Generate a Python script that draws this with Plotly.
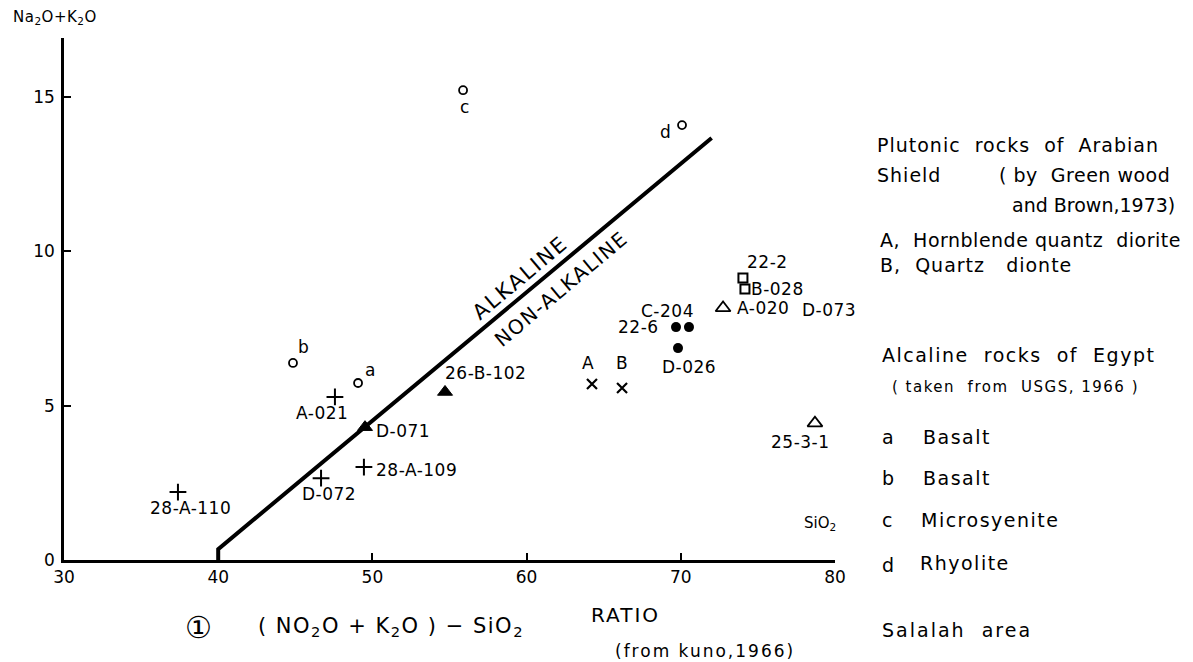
import plotly.graph_objects as go

# ---------------- data ----------------
# open circles: alkaline rocks of Egypt (a, b, c, d)
egypt_labels = ["a", "b", "c", "d"]
egypt_x = [49.07, 44.85, 55.88, 70.08]
egypt_y = [5.73, 6.38, 15.21, 14.08]

# plus markers
plus_labels = ["A-021", "28-A-109", "D-072", "28-A-110"]
plus_x = [47.57, 49.45, 46.67, 37.39]
plus_y = [5.28, 3.01, 2.65, 2.20]

# filled triangles
ftri_labels = ["D-071", "26-B-102"]
ftri_x = [49.52, 54.71]
ftri_y = [4.30, 5.44]

# x markers: Arabian Shield plutonic rocks
shield_labels = ["A", "B"]
shield_x = [64.24, 66.19]
shield_y = [5.70, 5.57]

# filled circles
dot_labels = ["22-6", "C-204", "D-026"]
dot_x = [69.69, 70.53, 69.82]
dot_y = [7.54, 7.54, 6.86]

# open squares
sq_labels = ["22-2", "B-028"]
sq_x = [74.03, 74.16]
sq_y = [9.13, 8.77]

# open triangles
otri_labels = ["A-020", "25-3-1"]
otri_x = [72.74, 78.70]
otri_y = [8.16, 4.43]

# label without marker
txt_labels = ["D-073"]
txt_x = [79.6]
txt_y = [8.10]

# alkaline / non-alkaline boundary
bound_x = [40, 40, 72.0]
bound_y = [0, 0.35, 13.66]

x_ticks = [30, 40, 50, 60, 70, 80]
y_ticks = [0, 5, 10, 15]

# ---------------- style ----------------
FONT = "DejaVu Sans"
OFF = 8                      # page body margin
W, H = 1193 - OFF, 662 - OFF
L, T = 64 - OFF, 38 - OFF
R = W - (835 - OFF)
B = H - (560 - OFF)

def pp(px, py):
    px, py = px - OFF, py - OFF
    return (px - L) / (W - L - R), (H - B - py) / (H - T - B)

def ls(text, sp):
    return f'<span style="letter-spacing:{sp}px">{text}</span>'

fig = go.Figure()

fig.add_trace(go.Scatter(x=bound_x, y=bound_y, mode="lines",
                         line=dict(color="black", width=4), hoverinfo="skip"))

def add_markers(xs, ys, symbol, size, lw=1.8):
    fig.add_trace(go.Scatter(x=xs, y=ys, mode="markers",
                             marker=dict(symbol=symbol, size=size, color="black",
                                         line=dict(color="black", width=lw))))

add_markers(egypt_x, egypt_y, "circle-open", 8)
add_markers(plus_x, plus_y, "cross-thin-open", 12, 2)
add_markers(ftri_x, ftri_y, "triangle-up", 13, 1)
add_markers(shield_x, shield_y, "x-thin-open", 10, 2.2)
add_markers(dot_x, dot_y, "circle", 10, 0)
add_markers(sq_x, sq_y, "square-open", 9, 2)
add_markers(otri_x, otri_y, "triangle-up-open", 13, 1.8)

annotations = []

def labels(names, xs, ys, shifts, size=17):
    for n, x, y, (dx, dy) in zip(names, xs, ys, shifts):
        annotations.append(dict(x=x, y=y, xref="x", yref="y", text=ls(n, 0.5), showarrow=False,
                                xshift=dx, yshift=dy, font=dict(size=size, color="black", family=FONT)))

labels(egypt_labels, egypt_x, egypt_y, [(12, 13), (11, 16), (2, -17), (-17, -7)])
labels(plus_labels, plus_x, plus_y, [(-13, -16), (53, -3), (8, -16), (13, -16)])
labels(ftri_labels, ftri_x, ftri_y, [(38, -4), (40, 19)])
labels(shield_labels, shield_x, shield_y, [(-4, 21), (0, 25)])
labels(dot_labels, dot_x, dot_y, [(-38, 0), (-21, 16), (11, -19)])
labels(sq_labels, sq_x, sq_y, [(25, 16), (33, 0)])
labels(otri_labels, otri_x, otri_y, [(40, 0), (-14, -19)])
labels(txt_labels, txt_x, txt_y, [(0, 0)])

def ptext(text, px, py, size=17, xanchor="center", angle=0, sp=0):
    x, y = pp(px, py)
    if sp:
        text = ls(text, sp)
    annotations.append(dict(x=x, y=y, xref="paper", yref="paper", text=text, showarrow=False,
                            xanchor=xanchor, yanchor="middle", textangle=angle,
                            font=dict(size=size, color="black", family=FONT)))

# boundary labels
ptext("ALKALINE", 520, 278, 21, angle=-40, sp=2)
ptext("NON-ALKALINE", 561, 289, 20, angle=-40, sp=1.5)

# axis titles
ptext("Na<sub>2</sub>O+K<sub>2</sub>O", 11, 18, 15, xanchor="left", sp=0.5)
ptext("SiO<sub>2</sub>", 820, 523, 15)

# caption
ptext("①", 198, 627, 30)
ptext("( NO<sub>2</sub>O + K<sub>2</sub>O ) − SiO<sub>2</sub>", 391, 627, 21, sp=1.5)
ptext("RATIO", 625, 615, 20, sp=2)
ptext("(from kuno,1966)", 613, 651, 17, xanchor="left", sp=2)
ptext("Salalah  area", 880, 630, 19, xanchor="left", sp=2)

# legend texts
LG = 19
ptext("Plutonic  rocks  of  Arabian", 875, 145, LG, xanchor="left", sp=1)
ptext("Shield", 875, 175, LG, xanchor="left", sp=1)
ptext("( by  Green wood", 997, 175, LG, xanchor="left", sp=0.5)
ptext("and Brown,1973)", 1010, 205, LG, xanchor="left")
ptext("A,  Hornblende quantz  diorite", 878, 240, LG, xanchor="left", sp=0.5)
ptext("B,  Quartz   dionte", 878, 265, LG, xanchor="left", sp=1)
ptext("Alcaline  rocks  of  Egypt", 880, 355, LG, xanchor="left", sp=1.5)
ptext("( taken  from  USGS, 1966 )", 890, 387, 15, xanchor="left", sp=1.5)
ptext("a", 880, 437, LG, xanchor="left")
ptext("Basalt", 921, 437, LG, xanchor="left", sp=1.5)
ptext("b", 880, 478, LG, xanchor="left")
ptext("Basalt", 921, 478, LG, xanchor="left", sp=1.5)
ptext("c", 880, 520, LG, xanchor="left")
ptext("Microsyenite", 919, 520, LG, xanchor="left", sp=1.5)
ptext("d", 880, 565, LG, xanchor="left")
ptext("Rhyolite", 918, 563, LG, xanchor="left", sp=1.5)

fig.update_layout(
    width=W, height=H,
    margin=dict(l=L, r=R, t=T, b=B, pad=0),
    paper_bgcolor="white", plot_bgcolor="white",
    showlegend=False,
    annotations=annotations,
    font=dict(family=FONT, color="black", size=15),
    xaxis=dict(range=[30, 80], tickvals=x_ticks, showgrid=False, zeroline=False,
               showline=True, linecolor="black", linewidth=2.5,
               ticks="inside", ticklen=7, tickwidth=2, tickcolor="black",
               tickfont=dict(size=17, family=FONT, color="black")),
    yaxis=dict(range=[0, 16.9], tickvals=y_ticks, showgrid=False, zeroline=False,
               showline=True, linecolor="black", linewidth=2.5,
               ticks="inside", ticklen=7, tickwidth=2, tickcolor="black",
               ticklabelstandoff=3,
               tickfont=dict(size=17, family=FONT, color="black")),
)

fig.write_html("out.html")
